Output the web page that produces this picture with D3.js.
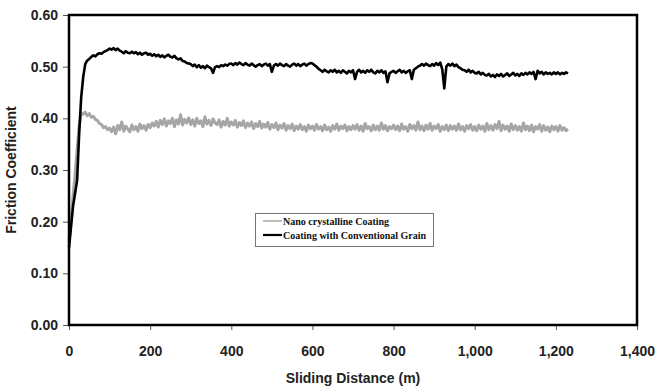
<!DOCTYPE html>
<html>
<head>
<meta charset="utf-8">
<script src="https://cdn.jsdelivr.net/npm/d3@7/dist/d3.min.js"></script>
<style>
  body { margin: 0; background: #fff; }
  svg text { font-family: "Liberation Sans", Arial, sans-serif; font-weight: bold; fill: #222; }
  .legend text { font-family: "Liberation Serif", "Times New Roman", serif; fill: #111; }
</style>
</head>
<body>
<div id="chart"></div>
<script>
// sampling step of the recorded friction trace (m)
const stepDistance = 5

const seriesNames = ['Nano crystalline Coating', 'Coating with Conventional Grain']

const xTicks = [0, 200, 400, 600, 800, 1000, 1200, 1400]
const yTicks = [0, 0.1, 0.2, 0.3, 0.4, 0.5, 0.6]

// Nano crystalline Coating, one value every 5 m from 0 to 1230 m
const nanoValues = [
  0.160, 0.200, 0.250, 0.290, 0.340, 0.385, 0.410, 0.408, 0.412, 0.405, 0.409, 0.402, 0.404, 0.398, 0.396, 0.390, 0.388, 0.382, 0.384, 0.378,
  0.381, 0.374, 0.383, 0.370, 0.386, 0.378, 0.393, 0.375, 0.385, 0.379, 0.374, 0.387, 0.378, 0.384, 0.375, 0.389, 0.380, 0.386, 0.377, 0.388,
  0.382, 0.391, 0.385, 0.394, 0.383, 0.396, 0.388, 0.399, 0.385, 0.395, 0.390, 0.400, 0.384, 0.397, 0.389, 0.407, 0.387, 0.398, 0.391, 0.401,
  0.388, 0.397, 0.385, 0.400, 0.390, 0.395, 0.384, 0.403, 0.389, 0.396, 0.386, 0.399, 0.391, 0.388, 0.397, 0.383, 0.394, 0.387, 0.400, 0.385,
  0.393, 0.387, 0.396, 0.383, 0.392, 0.386, 0.395, 0.382, 0.391, 0.385, 0.393, 0.380, 0.390, 0.384, 0.394, 0.381, 0.389, 0.383, 0.392, 0.379,
  0.388, 0.382, 0.391, 0.378, 0.387, 0.381, 0.390, 0.377, 0.386, 0.380, 0.389, 0.376, 0.385, 0.379, 0.388, 0.378, 0.384, 0.375, 0.387, 0.380,
  0.385, 0.377, 0.388, 0.379, 0.384, 0.376, 0.387, 0.378, 0.383, 0.375, 0.386, 0.379, 0.389, 0.377, 0.385, 0.380, 0.387, 0.376, 0.384, 0.378,
  0.386, 0.379, 0.388, 0.377, 0.385, 0.375, 0.390, 0.380, 0.384, 0.376, 0.387, 0.378, 0.385, 0.377, 0.391, 0.379, 0.386, 0.376, 0.384, 0.380,
  0.387, 0.378, 0.385, 0.376, 0.389, 0.379, 0.384, 0.375, 0.388, 0.380, 0.386, 0.377, 0.393, 0.378, 0.385, 0.376, 0.387, 0.379, 0.390, 0.377,
  0.385, 0.380, 0.388, 0.375, 0.384, 0.378, 0.387, 0.376, 0.386, 0.379, 0.385, 0.377, 0.389, 0.378, 0.384, 0.375, 0.386, 0.380, 0.388, 0.377,
  0.384, 0.376, 0.387, 0.379, 0.385, 0.375, 0.390, 0.378, 0.386, 0.377, 0.388, 0.380, 0.394, 0.376, 0.387, 0.379, 0.385, 0.375, 0.389, 0.378,
  0.386, 0.377, 0.384, 0.375, 0.391, 0.378, 0.385, 0.376, 0.387, 0.374, 0.384, 0.379, 0.388, 0.375, 0.386, 0.377, 0.383, 0.374, 0.385, 0.378,
  0.384, 0.375, 0.386, 0.377, 0.382, 0.376, 0.379
]

// Coating with Conventional Grain, one value every 5 m from 0 to 1230 m
const conventionalValues = [
  0.150, 0.190, 0.230, 0.255, 0.280, 0.370, 0.440, 0.480, 0.505, 0.512, 0.515, 0.519, 0.522, 0.520, 0.524, 0.526, 0.525, 0.528, 0.530, 0.532,
  0.535, 0.533, 0.536, 0.532, 0.535, 0.531, 0.529, 0.526, 0.530, 0.527, 0.526, 0.529, 0.526, 0.528, 0.524, 0.527, 0.523, 0.526, 0.527, 0.523,
  0.525, 0.521, 0.524, 0.520, 0.523, 0.519, 0.522, 0.518, 0.521, 0.523, 0.519, 0.518, 0.521, 0.516, 0.514, 0.516, 0.511, 0.510, 0.507, 0.506,
  0.505, 0.501, 0.504, 0.499, 0.503, 0.498, 0.501, 0.497, 0.502, 0.499, 0.497, 0.488, 0.499, 0.501, 0.499, 0.503, 0.501, 0.504, 0.502, 0.505,
  0.506, 0.503, 0.507, 0.504, 0.508, 0.505, 0.503, 0.507, 0.504, 0.502, 0.506, 0.503, 0.500, 0.503, 0.505, 0.501, 0.504, 0.506, 0.502, 0.505,
  0.490, 0.502, 0.505, 0.502, 0.506, 0.503, 0.501, 0.505, 0.502, 0.500, 0.504, 0.506, 0.502, 0.505, 0.501, 0.504, 0.506, 0.502, 0.505, 0.507,
  0.506, 0.503, 0.500, 0.496, 0.493, 0.490, 0.494, 0.491, 0.489, 0.493, 0.490, 0.494, 0.489, 0.492, 0.488, 0.493, 0.490, 0.487, 0.492, 0.489,
  0.493, 0.476, 0.490, 0.494, 0.489, 0.492, 0.488, 0.493, 0.490, 0.494, 0.489, 0.487, 0.492, 0.489, 0.493, 0.488, 0.491, 0.470, 0.487, 0.490,
  0.492, 0.488, 0.491, 0.494, 0.489, 0.492, 0.488, 0.491, 0.493, 0.476, 0.494, 0.497, 0.500, 0.502, 0.505, 0.502, 0.506, 0.503, 0.501, 0.505,
  0.502, 0.507, 0.503, 0.508, 0.495, 0.458, 0.500, 0.505, 0.502, 0.506, 0.501, 0.504, 0.499, 0.497, 0.494, 0.493, 0.490, 0.494, 0.489, 0.492,
  0.488, 0.487, 0.490, 0.485, 0.488, 0.484, 0.483, 0.486, 0.481, 0.484, 0.480, 0.485, 0.482, 0.486, 0.481, 0.484, 0.487, 0.482, 0.485, 0.488,
  0.483, 0.486, 0.482, 0.487, 0.484, 0.488, 0.485, 0.489, 0.486, 0.490, 0.476, 0.492, 0.487, 0.490, 0.485, 0.489, 0.486, 0.488, 0.485, 0.489,
  0.486, 0.489, 0.485, 0.488, 0.486, 0.489, 0.487
]

const width = 656, height = 390
const margin = {top: 15, right: 19, bottom: 65, left: 69}

const svg = d3.select('#chart').append('svg')
  .attr('width', width)
  .attr('height', height)

const xScale = d3.scaleLinear().domain([0, 1400]).range([margin.left, width - margin.right])
const yScale = d3.scaleLinear().domain([0, 0.6]).range([height - margin.bottom, margin.top])

// axes
const xAxis = d3.axisBottom(xScale).tickValues(xTicks).tickSize(5).tickSizeOuter(0).tickPadding(16)
  .tickFormat(d3.format(','))
svg.append('g')
  .attr('transform', `translate(0,${height - margin.bottom})`)
  .call(xAxis)
  .call(g => g.select('.domain').remove())
  .call(g => g.selectAll('line').attr('stroke', '#555'))
  .call(g => g.selectAll('text').attr('font-size', 14))

const yAxis = d3.axisLeft(yScale).tickValues(yTicks).tickSize(6).tickSizeOuter(0).tickPadding(5)
  .tickFormat(d3.format('.2f'))
svg.append('g')
  .attr('transform', `translate(${margin.left},0)`)
  .call(yAxis)
  .call(g => g.select('.domain').remove())
  .call(g => g.selectAll('line').attr('stroke', '#555'))
  .call(g => g.selectAll('text').attr('font-size', 14))

// lines
const toPoints = vals => vals.map((v, i) => ({dist: i * stepDistance, mu: v}))
const line = d3.line()
  .x(d => xScale(d.dist))
  .y(d => yScale(d.mu))

svg.append('path')
  .attr('d', line(toPoints(nanoValues)))
  .attr('fill', 'none')
  .attr('stroke', '#a6a6a6')
  .attr('stroke-width', 3)
  .attr('stroke-linejoin', 'round')

svg.append('path')
  .attr('d', line(toPoints(conventionalValues)))
  .attr('fill', 'none')
  .attr('stroke', '#000')
  .attr('stroke-width', 2.6)
  .attr('stroke-linejoin', 'round')

// plot frame
svg.append('rect')
  .attr('x', margin.left)
  .attr('y', margin.top)
  .attr('width', width - margin.left - margin.right)
  .attr('height', height - margin.top - margin.bottom)
  .attr('fill', 'none')
  .attr('stroke', '#000')
  .attr('stroke-width', 2.5)

// titles
svg.append('text')
  .attr('x', (margin.left + width - margin.right) / 2)
  .attr('y', 383)
  .attr('text-anchor', 'middle')
  .attr('font-size', 14)
  .text('Sliding Distance (m)')

svg.append('text')
  .attr('transform', `translate(16,${(margin.top + height - margin.bottom) / 2}) rotate(-90)`)
  .attr('text-anchor', 'middle')
  .attr('font-size', 14)
  .text('Friction Coefficient')

// legend
const legend = svg.append('g').attr('class', 'legend')
legend.append('rect')
  .attr('x', 255.5).attr('y', 213.5)
  .attr('width', 178).attr('height', 33)
  .attr('fill', '#fff')
  .attr('stroke', '#777')
  .attr('stroke-width', 1)

const legendColors = ['#a6a6a6', '#000']
seriesNames.forEach((name, i) => {
  const ly = 221 + i * 14
  legend.append('line')
    .attr('x1', 263).attr('x2', 282)
    .attr('y1', ly).attr('y2', ly)
    .attr('stroke', legendColors[i])
    .attr('stroke-width', i === 0 ? 1.5 : 2.2)
  legend.append('text')
    .attr('x', 283).attr('y', ly + 3.5)
    .attr('font-size', 10)
    .text(name)
})
</script>
</body>
</html>
